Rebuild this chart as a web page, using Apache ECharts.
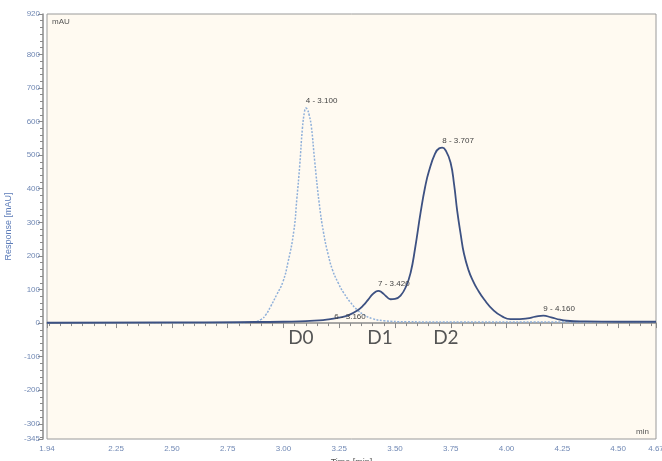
<!DOCTYPE html>
<html>
<head>
<meta charset="utf-8">
<script src="https://cdn.jsdelivr.net/npm/echarts@6/dist/echarts.min.js"></script>
<style>
  html, body { margin: 0; padding: 0; background: #ffffff; }
  #chart { width: 662px; height: 461px; }
</style>
</head>
<body>
<div id="chart"></div>
<script>
// dotted trace (D0 injection), [time min, mAU]
const d0Trace = [
  [1.94, 1], [2.50, 1], [2.80, 1], [2.86, 3], [2.90, 11], [2.92, 24], [2.943, 50],
  [2.97, 85], [2.997, 122], [3.02, 180], [3.046, 272], [3.06, 370], [3.073, 470],
  [3.085, 580], [3.095, 632], [3.10, 640], [3.106, 637], [3.115, 620], [3.125, 585],
  [3.14, 482], [3.16, 358], [3.18, 268], [3.20, 205], [3.22, 158], [3.245, 120],
  [3.27, 90], [3.30, 62], [3.33, 40], [3.36, 25], [3.40, 13], [3.45, 7], [3.55, 4],
  [3.80, 3], [4.20, 3], [4.67, 3]
]

// solid trace (D1 / D2 sample), [time min, mAU]
const sampleTrace = [
  [1.94, 1], [2.50, 2], [2.80, 3], [3.00, 4], [3.10, 6], [3.16, 8], [3.21, 12],
  [3.25, 16], [3.29, 23], [3.33, 37], [3.36, 54], [3.38, 70], [3.40, 86],
  [3.415, 94], [3.425, 96], [3.44, 92], [3.46, 80], [3.48, 71], [3.50, 72], [3.525, 82],
  [3.55, 110], [3.57, 150], [3.59, 222], [3.615, 330], [3.635, 405], [3.652, 452],
  [3.68, 505], [3.698, 520], [3.712, 522], [3.728, 513], [3.749, 478], [3.765, 412],
  [3.779, 333], [3.795, 262], [3.809, 207], [3.83, 157], [3.85, 125], [3.869, 101],
  [3.90, 70], [3.943, 37], [3.98, 20], [4.018, 12], [4.06, 12], [4.093, 14],
  [4.13, 19], [4.165, 22], [4.20, 17], [4.24, 10], [4.27, 7], [4.35, 5],
  [4.50, 4], [4.67, 4]
]

// peak annotations
const peakNames = ["4 - 3.100", "6 - 3.160", "7 - 3.420", "8 - 3.707", "9 - 4.160"]
const peakTimes = [3.100, 3.160, 3.424, 3.712, 4.165]
const peakValues = [640, 8, 96, 522, 22]
const peakSeries = [0, 1, 1, 1, 1]

const bandNames = ["D0", "D1", "D2"]
const bandTimes = [3.078, 3.433, 3.728]
const bandValue = -44

const xMajor = [1.94, 2.25, 2.50, 2.75, 3.00, 3.25, 3.50, 3.75, 4.00, 4.25, 4.50, 4.67]
const yMajor = [-345, -300, -200, -100, 0, 100, 200, 300, 400, 500, 600, 700, 800, 920]

const xMin = 1.94, xMax = 4.67, yMin = -345, yMax = 920

// minor tick positions
const xMinor = []
for (let i = 39; i <= 93; i++) {
  const v = +(i * 0.05).toFixed(2)
  if (v > xMin && v < xMax && !xMajor.includes(v)) xMinor.push(v)
}
const yMinor = []
for (let v = -340; v <= 920; v += 20) {
  if (!yMajor.includes(v)) yMinor.push(v)
}

const labelColor = "#7088b4"
const axisColor = "#8a8a8a"

function peakMarks(seriesIdx) {
  const out = []
  peakNames.forEach((n, i) => {
    if (peakSeries[i] !== seriesIdx) return
    const dx = n.startsWith("6") ? 15 : 0
    const dy = n.startsWith("6") ? -8 : -11
    out.push({
      coord: [peakTimes[i], peakValues[i]],
      value: n,
      label: { position: [dx, dy] }
    })
  })
  return out
}

const chart = echarts.init(document.getElementById("chart"))

chart.setOption({
  backgroundColor: "#ffffff",
  animation: false,
  grid: {
    left: 47, right: 6, top: 14, bottom: 22,
    outerBoundsMode: "none",
    containLabel: false,
    show: true,
    backgroundColor: "#fffaf1",
    borderColor: "#9a9a9a",
    borderWidth: 1
  },
  xAxis: [
    {
      type: "value", min: xMin, max: xMax, position: "bottom", offset: 2,
      name: "Time [min]", nameLocation: "middle", nameGap: 16,
      nameTextStyle: { color: "#555", fontSize: 9, fontFamily: "Liberation Sans" },
      axisLine: { show: true, lineStyle: { color: axisColor, width: 1.5 } },
      axisTick: { show: true, customValues: xMajor, length: 5, lineStyle: { color: axisColor } },
      axisLabel: {
        customValues: xMajor, color: labelColor, fontSize: 8, margin: 4,
        fontFamily: "Liberation Sans", formatter: v => v.toFixed(2)
      },
      splitLine: { show: false }
    },
    {
      type: "value", min: xMin, max: xMax, position: "bottom", offset: 2,
      axisLine: { show: false },
      axisTick: { show: true, customValues: xMinor, length: 3, lineStyle: { color: axisColor } },
      axisLabel: { show: false },
      splitLine: { show: false }
    }
  ],
  yAxis: [
    {
      type: "value", min: yMin, max: yMax, position: "left", offset: 4,
      name: "Response [mAU]", nameLocation: "middle", nameGap: 28,
      nameTextStyle: { color: "#5b7bb8", fontSize: 9, fontFamily: "Liberation Sans" },
      axisLine: { show: true, lineStyle: { color: axisColor, width: 1.5 } },
      axisTick: { show: true, customValues: yMajor, length: 5, lineStyle: { color: axisColor } },
      axisLabel: {
        customValues: yMajor, color: labelColor, fontSize: 8, margin: 3,
        fontFamily: "Liberation Sans"
      },
      splitLine: { show: false }
    },
    {
      type: "value", min: yMin, max: yMax, position: "left", offset: 4,
      axisLine: { show: false },
      axisTick: { show: true, customValues: yMinor, length: 3, lineStyle: { color: axisColor } },
      axisLabel: { show: false },
      splitLine: { show: false }
    }
  ],
  graphic: [
    { type: "text", left: 52, top: 18, style: { text: "mAU", fill: "#555", font: "8px Liberation Sans" } },
    { type: "text", left: 636, top: 428, style: { text: "min", fill: "#555", font: "8px Liberation Sans" } }
  ],
  series: [
    {
      name: "D0",
      type: "line",
      data: d0Trace,
      smooth: 0.5,
      showSymbol: false,
      z: 2,
      lineStyle: { color: "#8fb0da", width: 1.5, type: [2, 1.5] },
      markPoint: {
        symbol: "circle", symbolSize: 0, silent: true,
        label: { show: true, formatter: p => p.value, color: "#444", fontSize: 8, fontFamily: "Liberation Sans" },
        data: peakMarks(0)
      }
    },
    {
      name: "Sample",
      type: "line",
      data: sampleTrace,
      smooth: 0.5,
      showSymbol: false,
      z: 3,
      lineStyle: { color: "#3d5182", width: 1.8 },
      markPoint: {
        symbol: "circle", symbolSize: 0, silent: true,
        label: { show: true, formatter: p => p.value, color: "#444", fontSize: 8, fontFamily: "Liberation Sans" },
        data: peakMarks(1).concat(bandNames.map((n, i) => ({
          coord: [bandTimes[i], bandValue],
          value: n,
          label: { position: "inside", fontSize: 19, color: "#555", fontFamily: "Lato" }
        })))
      }
    }
  ]
})
</script>
</body>
</html>
